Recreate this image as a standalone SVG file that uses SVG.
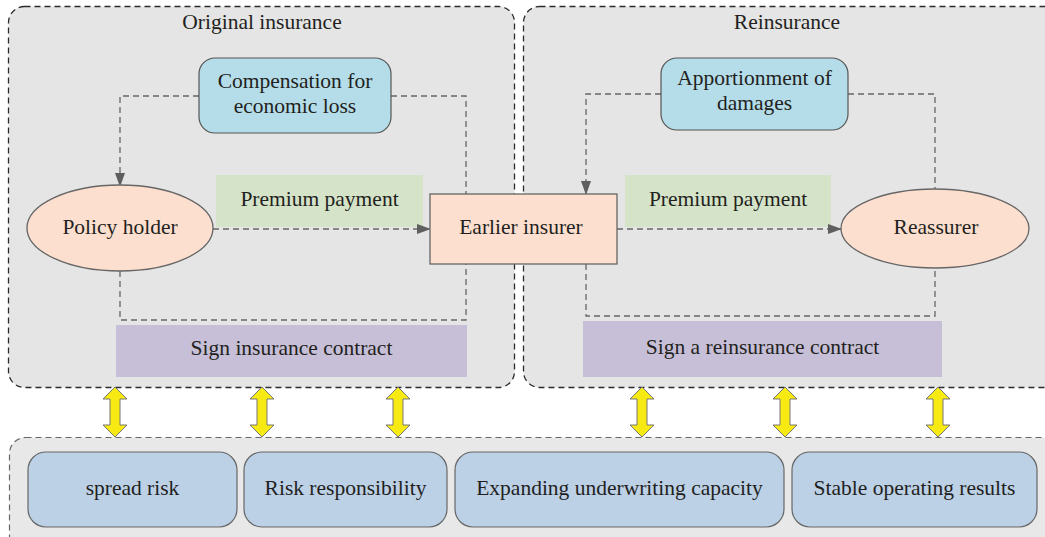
<svg xmlns="http://www.w3.org/2000/svg" width="1045" height="537" viewBox="0 0 1045 537">
<defs>
<marker id="ah" markerWidth="14" markerHeight="10" refX="13" refY="5" orient="auto" markerUnits="userSpaceOnUse">
<path d="M0,0 L14,5 L0,10 Z" fill="#5f5f5f"/>
</marker>
<path id="dbl" d="M0,-25 L12,-13 L5,-13 L5,13 L12,13 L0,25 L-12,13 L-5,13 L-5,-13 L-12,-13 Z"/>
</defs>
<style>
text{font-family:"Liberation Serif","Times New Roman",serif;font-size:21.5px;fill:#231f20;text-anchor:middle}
.cont{fill:#e4e5e4;stroke:#2b2b2b;stroke-width:1.3;stroke-dasharray:6 4}
.bcont{fill:#e8e8e8;stroke:#666;stroke-width:1.2;stroke-dasharray:6 4}
.blue{fill:#b4dde9;stroke:#555;stroke-width:1.2}
.green{fill:#d5e3c9}
.purple{fill:#c6bfd7}
.peach{fill:#fddfcf;stroke:#666;stroke-width:1.3}
.res{fill:#bcd1e6;stroke:#666;stroke-width:1.2}
.dl{fill:none;stroke:#666;stroke-width:1.3;stroke-dasharray:6 4}
.yel{fill:#f7ea12;stroke:#777;stroke-width:1}
</style>

<g id="original-insurance">
<rect class="cont" x="8.5" y="6.5" width="506" height="381" rx="16"/>
<text x="262" y="29">Original insurance</text>
</g>
<g id="reinsurance">
<rect class="cont" x="523.5" y="6.5" width="540" height="381" rx="16"/>
<text x="787" y="29">Reinsurance</text>
</g>
<g id="bottom-panel">
<rect class="bcont" x="9.5" y="437.5" width="1060" height="120" rx="16"/>
</g>

<g id="premium1"><rect class="green" x="216" y="175" width="207" height="52"/><text x="319.5" y="206">Premium payment</text></g>
<g id="premium2"><rect class="green" x="625" y="175" width="206" height="52"/><text x="728" y="206">Premium payment</text></g>
<g id="sign1"><rect class="purple" x="116" y="325" width="351" height="52"/><text x="291.5" y="355">Sign insurance contract</text></g>
<g id="sign2"><rect class="purple" x="583" y="321" width="359" height="56"/><text x="762.5" y="354">Sign a reinsurance contract</text></g>

<g id="connectors">
<path class="dl" d="M199,96 H120 V186" marker-end="url(#ah)"/>
<path class="dl" d="M391,96 H466 V194"/>
<path class="dl" d="M213,229 H430" marker-end="url(#ah)"/>
<path class="dl" d="M120,271 V320 H466 V264"/>
<path class="dl" d="M661,94 H586 V194" marker-end="url(#ah)"/>
<path class="dl" d="M848,94 H935 V189"/>
<path class="dl" d="M617,229 H841" marker-end="url(#ah)"/>
<path class="dl" d="M586,264 V316 H935 V268"/>
<use href="#dbl" class="yel" x="115" y="412"/>
<use href="#dbl" class="yel" x="262" y="412"/>
<use href="#dbl" class="yel" x="398" y="412"/>
<use href="#dbl" class="yel" x="642" y="412"/>
<use href="#dbl" class="yel" x="785" y="412"/>
<use href="#dbl" class="yel" x="938" y="412"/>
</g>

<g id="compensation"><rect class="blue" x="199" y="58" width="192" height="75" rx="16"/><text x="295" y="88">Compensation for</text><text x="295" y="113">economic loss</text></g>
<g id="apportionment"><rect class="blue" x="661" y="58" width="187" height="72" rx="16"/><text x="754.5" y="85">Apportionment of</text><text x="754.5" y="110">damages</text></g>
<g id="policy-holder"><ellipse class="peach" cx="120" cy="228" rx="93" ry="43"/><text x="120" y="234">Policy holder</text></g>
<g id="earlier-insurer"><rect class="peach" x="430" y="194" width="187" height="70"/><text x="521" y="234">Earlier insurer</text></g>
<g id="reassurer"><ellipse class="peach" cx="935" cy="228.5" rx="94" ry="39.5"/><text x="936" y="234">Reassurer</text></g>

<g id="spread-risk"><rect class="res" x="28" y="452" width="209" height="75" rx="18"/><text x="132.5" y="495">spread risk</text></g>
<g id="risk-responsibility"><rect class="res" x="244" y="452" width="203" height="75" rx="18"/><text x="345.5" y="495">Risk responsibility</text></g>
<g id="expanding"><rect class="res" x="455" y="452" width="329" height="75" rx="18"/><text x="619.5" y="495">Expanding underwriting capacity</text></g>
<g id="stable"><rect class="res" x="792" y="452" width="245" height="75" rx="18"/><text x="914.5" y="495">Stable operating results</text></g>
</svg>
